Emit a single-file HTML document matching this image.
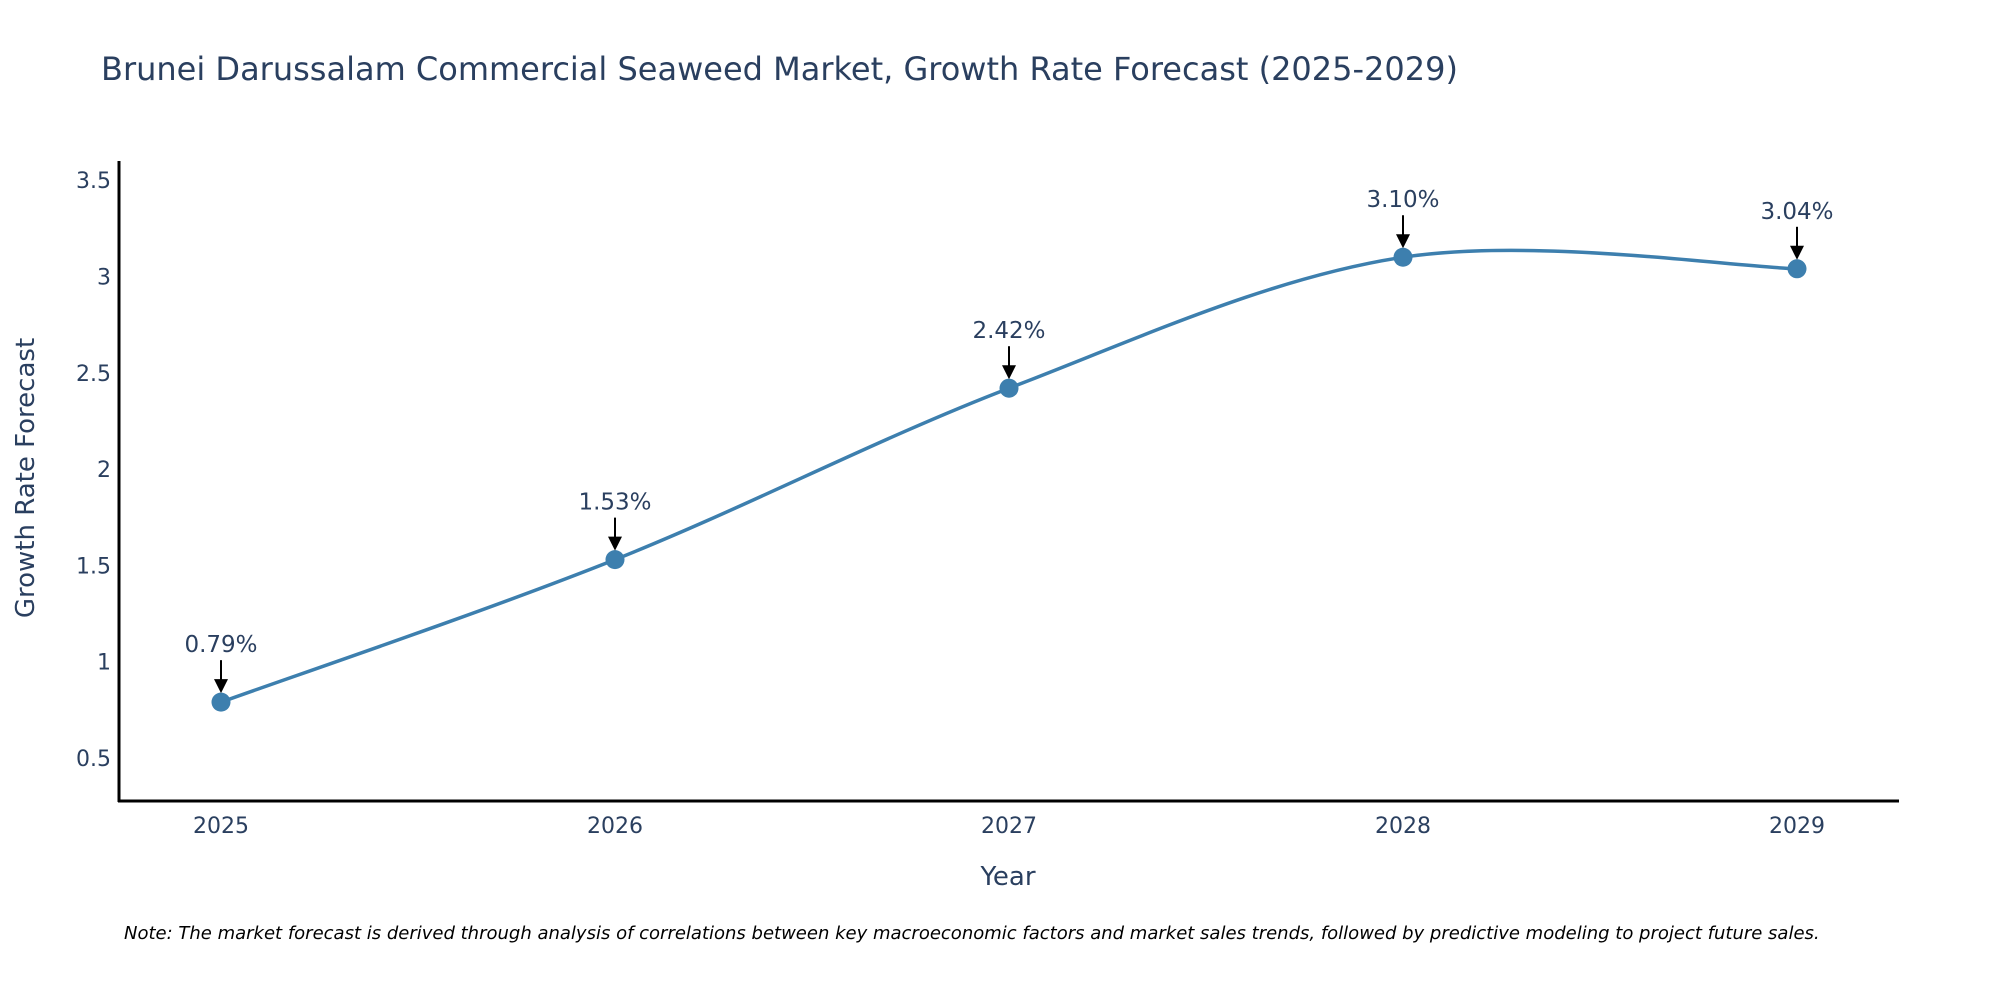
<!DOCTYPE html>
<html><head><meta charset="utf-8">
<style>
html,body{margin:0;padding:0;background:#fff;overflow:hidden;}
svg{display:block;font-family:"DejaVu Sans","Liberation Sans",sans-serif;}
</style></head>
<body>
<svg id="chart" width="2000" height="1000" viewBox="0 0 2000 1000" xmlns="http://www.w3.org/2000/svg">
<text x="101" y="80" font-size="32" fill="#2a3f5f">Brunei Darussalam Commercial Seaweed Market, Growth Rate Forecast (2025-2029)</text>
<g id="yticks"></g>
<g id="xticks"></g>
<line x1="119" y1="161" x2="119" y2="802" stroke="#000" stroke-width="3"/>
<line x1="118" y1="801" x2="1899" y2="801" stroke="#000" stroke-width="3"/>
<g id="series"></g>
<g id="annots"></g>
<text x="1008" y="885" font-size="26" fill="#2a3f5f" text-anchor="middle">Year</text>
<text transform="translate(34,478) rotate(-90)" font-size="26" fill="#2a3f5f" text-anchor="middle">Growth Rate Forecast</text>
<text x="124" y="939" font-size="18" font-style="italic" fill="#000">Note: The market forecast is derived through analysis of correlations between key macroeconomic factors and market sales trends, followed by predictive modeling to project future sales.</text>
</svg>
<script>
const years = [2025, 2026, 2027, 2028, 2029];
const values = [0.79, 1.53, 2.42, 3.10, 3.04];
const labels = ["0.79%", "1.53%", "2.42%", "3.10%", "3.04%"];
const yTickValues = [0.5, 1, 1.5, 2, 2.5, 3, 3.5];
const yTickLabels = ["0.5", "1", "1.5", "2", "2.5", "3", "3.5"];

const NS = "http://www.w3.org/2000/svg";
function xScale(yr){ return 221 + (yr - 2025) * 394; }
function yScale(v){ return 758 - (v - 0.5) * 192.6; }
function mk(tag, attrs, parent){
  const e = document.createElementNS(NS, tag);
  for (const k in attrs) e.setAttribute(k, attrs[k]);
  parent.appendChild(e); return e;
}
const yt = document.getElementById('yticks');
yTickValues.forEach((v,i)=>{
  const t = mk('text',{x:111,y:yScale(v)+8,'font-size':22,fill:'#2a3f5f','text-anchor':'end'},yt);
  
  
  t.textContent = yTickLabels[i];
});
const xt = document.getElementById('xticks');
years.forEach(yr=>{
  const t = mk('text',{x:xScale(yr),y:833,'font-size':22,fill:'#2a3f5f','text-anchor':'middle'},xt);
  
  
  t.textContent = String(yr);
});
const pts = years.map((yr,i)=>[xScale(yr), yScale(values[i])]);
let d = 'M' + pts[0][0] + ',' + pts[0][1];
const s = 0.5;
for (let i=0;i<pts.length-1;i++){
  const p0 = pts[Math.max(i-1,0)], p1 = pts[i], p2 = pts[i+1], p3 = pts[Math.min(i+2,pts.length-1)];
  const c1 = [p1[0]+(p2[0]-p0[0])*s/3, p1[1]+(p2[1]-p0[1])*s/3];
  const c2 = [p2[0]-(p3[0]-p1[0])*s/3, p2[1]-(p3[1]-p1[1])*s/3];
  d += ' C'+c1[0]+','+c1[1]+' '+c2[0]+','+c2[1]+' '+p2[0]+','+p2[1];
}
const ser = document.getElementById('series');
const line = mk('path',{d:d,fill:'none',stroke:'#3d7fae','stroke-width':3.5},ser);


const an = document.getElementById('annots');
pts.forEach((p,i)=>{
  const c = mk('circle',{cx:p[0],cy:p[1],r:9.5,fill:'#3d7fae'},ser);
  
  
  const ln = mk('line',{x1:p[0],y1:p[1]-42,x2:p[0],y2:p[1]-22,stroke:'#000','stroke-width':2},an);
  
  
  const hd = mk('path',{d:'M'+(p[0]-7)+','+(p[1]-23)+' L'+(p[0]+7)+','+(p[1]-23)+' L'+p[0]+','+(p[1]-9)+' Z',fill:'#000'},an);
  
  
  const t = mk('text',{x:p[0],y:p[1]-50,'font-size':23,fill:'#2a3f5f','text-anchor':'middle'},an);
  
  
  t.textContent = labels[i];
});
</script>
</body></html>
